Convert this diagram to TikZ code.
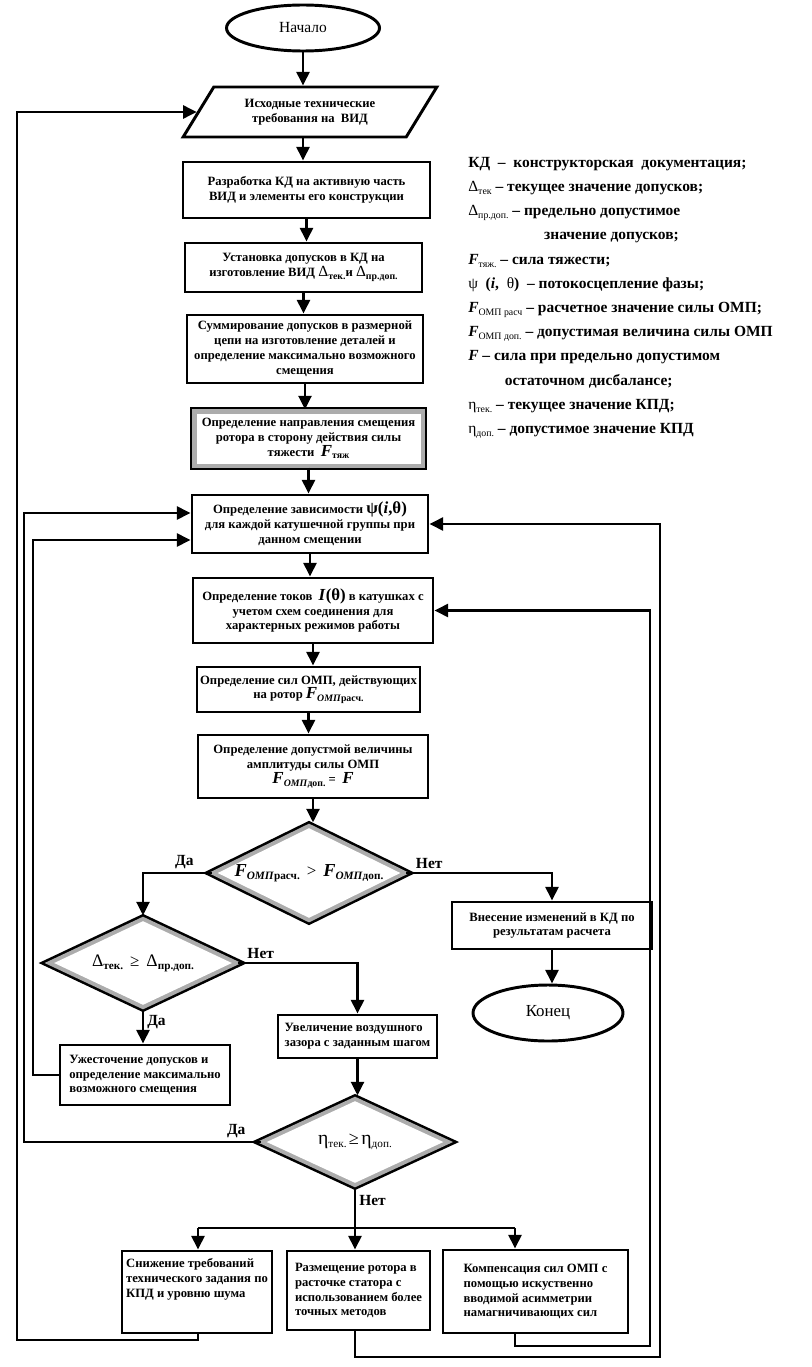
\documentclass[tikz,border=0pt]{standalone}
\usepackage{fontspec}
\setmainfont{Liberation Serif}
\usepackage{tikz}
\usetikzlibrary{shapes.geometric,arrows.meta,calc}
\def\px{0.025cm}
\newcommand{\ix}[1]{\raisebox{-0.45ex}{\fontsize{7}{7}\selectfont #1}}
\newcommand{\iy}[1]{\raisebox{-0.45ex}{\fontsize{8}{8}\selectfont #1}}
\newcommand{\bigF}{{\fontsize{12}{12}\selectfont\textit{F}}}
\newcommand{\hugeF}{{\fontsize{13}{13}\selectfont\textit{F}}}
\tikzset{
	box/.style={draw,line width=2.1pt,align=center,inner sep=2pt,font=\bfseries\fontsize{9}{10.6}\selectfont},
	lbox/.style={box,align=left},
	frame/.style={draw=gray!65,line width=5.8pt,preaction={draw=black,line width=9.4pt},postaction={fill=white}},
	term/.style={ellipse,draw,line width=2.1pt,inner sep=0pt,font=\fontsize{11}{12}\selectfont},
	cond/.style={diamond,frame,inner sep=0pt,aspect=2,font=\bfseries\fontsize{10}{11}\selectfont},
	arr/.style={line width=2.1pt,-{Triangle[length=3.4mm,width=3.2mm]}},
	lnk/.style={line width=2.1pt},
	yn/.style={font=\bfseries\fontsize{11}{12}\selectfont,inner sep=2pt}
}
\begin{document}
\begin{tikzpicture}[x=0.025cm,y=-0.025cm]
		\useasboundingbox (0,0) rectangle (811,1367);
		
		% main column
		\node[term,minimum width=153*\px,minimum height=46*\px] (start) at (303,28) {Начало};
		\node[trapezium,trapezium left angle=53.5,trapezium right angle=126.5,trapezium stretches=true,
		      draw,line width=2.1pt,align=center,inner sep=1pt,font=\bfseries\fontsize{9}{10.6}\selectfont,
		      minimum width=254*\px,minimum height=50*\px] (input) at (310,112)
		      {Исходные технические\\требования на\ \ ВИД};
		\node[box,minimum width=247*\px,minimum height=56*\px] (kd) at (306.5,190)
		      {Разработка КД на активную часть\\ВИД и элементы его конструкции};
		\node[box,minimum width=237*\px,minimum height=49*\px] (tol) at (303.5,267.5)
		      {Установка допусков в КД на\\изготовление ВИД {\mdseries\fontsize{11}{11}\selectfont Δ}\ix{тек.}и {\mdseries\fontsize{11}{11}\selectfont Δ}\ix{пр.доп.}};
		\node[box,minimum width=236*\px,minimum height=68*\px] (sum) at (305,349)
		      {Суммирование допусков в размерной\\цепи на изготовление деталей и\\определение максимально возможного\\смещения};
		\node[box,frame,minimum width=224*\px,minimum height=50*\px] (dir) at (308.5,438.5)
		      {Определение направления смещения\\ротора в сторону действия силы\\тяжести\ \ \bigF\ix{тяж}};
		\node[box,minimum width=236*\px,minimum height=58*\px] (psi) at (310,524)
		      {Определение зависимости {\fontsize{12}{12}\selectfont ψ(\textit{i},θ)}\\для каждой катушечной группы при\\данном смещении};
		\node[box,minimum width=240*\px,minimum height=65*\px] (cur) at (313,610.5)
		      {Определение токов\ \ {\fontsize{12}{12}\selectfont\textit{I}(θ)} в катушках с\\учетом схем соединения для\\характерных режимов работы};
		\node[box,minimum width=223*\px,minimum height=45*\px] (omp) at (308.5,689.5)
		      {Определение сил ОМП, действующих\\на ротор \bigF\ix{\textit{ОМП}расч.}};
		\node[box,minimum width=230*\px,minimum height=63*\px] (dop) at (313,766.5)
		      {Определение допустмой величины\\амплитуды силы ОМП\\\bigF\ix{\textit{ОМП}доп.} = \ \bigF};
		\node[cond,minimum width=186*\px,minimum height=93*\px] (d1) at (309,873)
		      {\hugeF\iy{\textit{ОМП}расч.}\ \ {\mdseries\large >}\ \ \hugeF\iy{\textit{ОМП}доп.}};
		
		% right branch
		\node[box,minimum width=200*\px,minimum height=47*\px] (chg) at (552,925.5)
		      {Внесение изменений в КД по\\результатам расчета};
		\node[term,minimum width=150*\px,minimum height=56*\px,font=\fontsize{12}{12}\selectfont] (end) at (548,1013) {Конец};
		
		% left branch
		\node[cond,minimum width=181*\px,minimum height=87*\px] (d2) at (143,963)
		      {{\mdseries\fontsize{12.5}{12}\selectfont Δ}\iy{тек.}\ \ {\mdseries\large ≥}\ \ {\mdseries\fontsize{12.5}{12}\selectfont Δ}\iy{пр.доп.}};
		\node[lbox,minimum width=159*\px,minimum height=43*\px] (gap) at (357.5,1036.5)
		      {Увеличение воздушного\\зазора с заданным шагом};
		\node[lbox,minimum width=170*\px,minimum height=60*\px] (tight) at (145,1075)
		      {Ужесточение допусков и\\определение максимально\\возможного смещения};
		\node[cond,minimum width=180*\px,minimum height=85*\px] (d3) at (355,1142)
		      {{\mdseries\fontsize{14}{14}\selectfont η}\iy{\mdseries тек.}\,{\mdseries\fontsize{13}{13}\selectfont ≥}\,{\mdseries\fontsize{14}{14}\selectfont η}\iy{\mdseries доп.}};
		
		% bottom row
		\node[lbox,minimum width=150*\px,minimum height=82*\px] (red) at (197,1292)
		      {Снижение требований\\технического задания по\\КПД и уровню шума\\[9pt]\mbox{}};
		\node[lbox,minimum width=143*\px,minimum height=79*\px] (rot) at (358.5,1290.5)
		      {Размещение ротора в\\расточке статора с\\использованием более\\точных методов};
		\node[lbox,minimum width=185*\px,minimum height=83*\px] (comp) at (535.5,1291.5)
		      {Компенсация сил ОМП с\\помощью искуственно\\вводимой асимметрии\\намагничивающих сил};
		
		% legend
		\node[anchor=north west,align=left,inner sep=0pt,
		      font=\bfseries\fontsize{11}{17.2}\selectfont] (legend) at (468,157)
		      {\spaceskip=0.5em plus 0.1em\relax
		       КД – конструкторская документация;\\
		       {\mdseries Δ}\ix{\mdseries тек} – текущее значение допусков;\\
		       {\mdseries Δ}\ix{\mdseries пр.доп.} – предельно допустимое\\
		       \hspace*{54pt}значение допусков;\\
		       \textit{F}\ix{\mdseries тяж.} – сила тяжести;\\
		       {\mdseries ψ}\ \ (\textit{i},\ \ {\mdseries θ})\ \ – потокосцепление фазы;\\
		       \textit{F}\ix{\mdseries ОМП расч} – расчетное значение силы ОМП;\\
		       \textit{F}\ix{\mdseries ОМП доп.} – допустимая величина силы ОМП\\
		       \textit{F} – сила при предельно допустимом\\
		       \hspace*{26pt}остаточном дисбалансе;\\
		       {\mdseries η}\ix{\mdseries тек.} – текущее значение КПД;\\
		       {\mdseries η}\ix{\mdseries доп.} – допустимое значение КПД};
		
		% connectors
		\draw[arr] (start.south) -- (start.south |- input.north);
		\draw[arr] (start.south |- input.south) -- (start.south |- kd.north);
		\draw[arr] (kd.south) -- (kd.south |- tol.north);
		\draw[arr] (tol.south) -- (tol.south |- sum.north);
		\draw[arr] (sum.south) -- (sum.south |- dir.north);
		\draw[arr] (dir.south) -- (dir.south |- psi.north);
		\draw[arr] (psi.south) -- (psi.south |- cur.north);
		\draw[arr] (cur.south) -- (cur.south |- omp.north);
		\draw[arr] (omp.south) -- (omp.south |- dop.north);
		\draw[arr] (dop.south) -- (dop.south |- d1.north);
		
		\draw[arr] (d1.west) node[yn,above left,xshift=-10pt] (da1) {Да} -| (d2.north);
		\draw[arr] (d1.east) node[yn,above right,xshift=4pt] (net1) {Нет} -| (chg.north);
		\draw[arr] (chg.south) -- (chg.south |- end.north);
		\draw[arr] (d2.east) node[yn,above right,xshift=4pt] (net2) {Нет} -| (gap.north);
		\draw[arr] (d2.south) -- node[yn,right,pos=0.35] (da2) {Да} (d2.south |- tight.north);
		\draw[arr] (gap.south) -- (gap.south |- d3.north);
		
		\coordinate (bus) at (355,1228);
		\coordinate (busL) at (198,1228);
		\coordinate (busR) at (515,1228);
		\draw[lnk] (d3.south) -- node[yn,right,pos=0.3] (net3) {Нет} (bus);
		\draw[lnk] (busL) -- (busR);
		\draw[arr] (busL) -- (busL |- red.north);
		\draw[arr] (bus) -- (bus |- rot.north);
		\draw[arr] (busR) -- (busR |- comp.north);
		
		% feedback loops
		\coordinate (loopA) at (17,1340);
		\coordinate (loopB) at (24,1142);
		\coordinate (loopC) at (33,1075);
		\coordinate (loopD) at (660,1357);
		\coordinate (loopE) at (650,1346);
		\draw[arr] (busL |- red.south) |- (loopA) |- (input.west);
		\draw[arr] (d3.west) node[yn,above left,xshift=-8pt] (da3) {Да} -- (loopB) |- ($(psi.west)+(0,-11)$);
		\draw[arr] (tight.west) -- (loopC) |- ($(psi.west)+(0,16)$);
		\draw[arr] (bus |- rot.south) |- (loopD) |- (psi.east);
		\draw[arr] (busR |- comp.south) |- (loopE) |- (cur.east);
	\end{tikzpicture}
\end{document}
